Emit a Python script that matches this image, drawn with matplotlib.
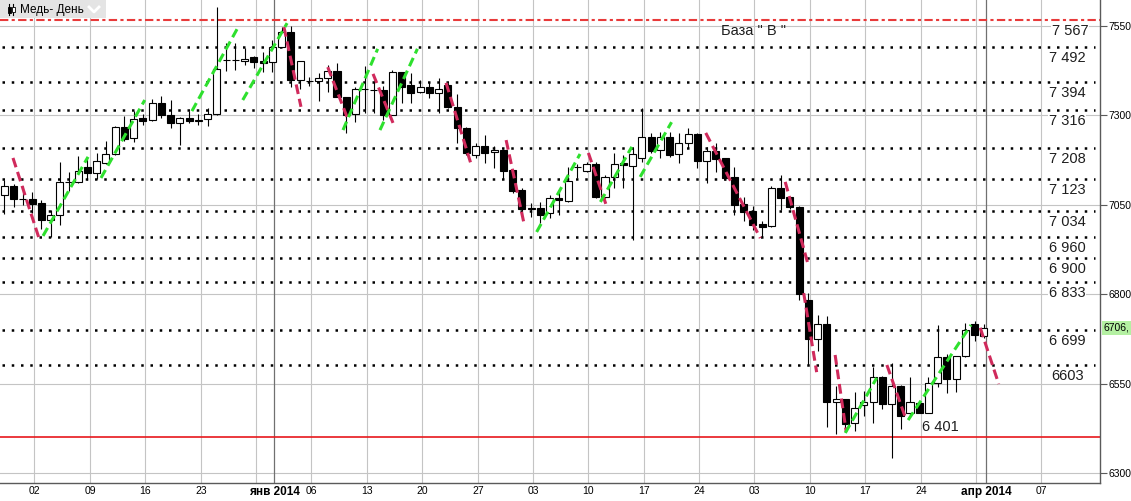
import matplotlib
matplotlib.use('Agg')
import matplotlib.pyplot as plt
from matplotlib.patches import Rectangle
from matplotlib.lines import Line2D
from matplotlib.transforms import IdentityTransform

plt.rcParams['font.family'] = ['Liberation Sans', 'DejaVu Sans']

# ---------------- data ----------------
opens = [7077, 7103, 7067, 7066, 7055, 7008, 7022, 7114, 7115, 7156,
         7139, 7167, 7192, 7268, 7237, 7293, 7286, 7336, 7301, 7279,
         7293, 7285, 7290, 7304, 7455, 7455, 7452, 7463, 7452, 7449,
         7491, 7533, 7398, 7396, 7396, 7405, 7424, 7351, 7304, 7374,
         7371, 7371, 7301, 7421, 7385, 7365, 7379, 7363, 7385, 7323,
         7265, 7189, 7214, 7198, 7203, 7147, 7091, 7040, 7041, 7027,
         7069, 7061, 7157, 7145, 7164, 7072, 7128, 7167, 7158, 7181,
         7240, 7203, 7240, 7192, 7223, 7248, 7172, 7200, 7181, 7128,
         7052, 7033, 6996, 6991, 7097, 7072, 7044, 6784, 6675, 6717,
         6499, 6507, 6440, 6489, 6499, 6568, 6493, 6543, 6468, 6496,
         6468, 6552, 6624, 6564, 6627, 6717, 6683]
highs = [7119, 7108, 7103, 7086, 7063, 7036, 7170, 7142, 7187, 7184,
         7195, 7228, 7270, 7298, 7312, 7304, 7346, 7354, 7343, 7295,
         7312, 7304, 7321, 7603, 7502, 7502, 7488, 7466, 7477, 7511,
         7547, 7549, 7452, 7407, 7419, 7441, 7447, 7351, 7379, 7438,
         7399, 7382, 7427, 7421, 7419, 7399, 7393, 7405, 7391, 7360,
         7268, 7223, 7245, 7214, 7206, 7147, 7097, 7055, 7058, 7077,
         7086, 7156, 7164, 7170, 7170, 7133, 7195, 7189, 7209, 7321,
         7251, 7254, 7254, 7251, 7265, 7251, 7212, 7223, 7181, 7156,
         7072, 7047, 7005, 7103, 7132, 7072, 7047, 6803, 6742, 6739,
         6543, 6507, 6527, 6529, 6596, 6571, 6608, 6546, 6568, 6496,
         6568, 6714, 6633, 6627, 6719, 6724, 6717]
lows = [7023, 7044, 7049, 7027, 6982, 6960, 6994, 7089, 7111, 7119,
        7122, 7164, 7189, 7228, 7226, 7273, 7284, 7293, 7265, 7217,
        7280, 7273, 7270, 7301, 7424, 7427, 7441, 7433, 7421, 7421,
        7491, 7379, 7374, 7382, 7340, 7365, 7351, 7251, 7281, 7307,
        7307, 7287, 7301, 7335, 7335, 7363, 7349, 7307, 7321, 7223,
        7189, 7181, 7167, 7153, 7122, 7083, 7021, 7016, 6999, 7013,
        7021, 7058, 7125, 7142, 7069, 7069, 7097, 7097, 6952, 7170,
        7195, 7181, 7184, 7167, 7209, 7153, 7111, 7142, 7119, 7021,
        7005, 6980, 6960, 6988, 7035, 7038, 6784, 6602, 6641, 6429,
        6409, 6415, 6417, 6459, 6440, 6479, 6342, 6423, 6462, 6468,
        6468, 6540, 6524, 6527, 6624, 6669, 6678]
closes = [7103, 7066, 7065, 7052, 7008, 7022, 7114, 7113, 7145, 7139,
          7172, 7192, 7268, 7234, 7290, 7284, 7335, 7300, 7279, 7293,
          7284, 7288, 7304, 7430, 7454, 7455, 7458, 7448, 7446, 7491,
          7533, 7399, 7452, 7396, 7405, 7424, 7351, 7301, 7374, 7373,
          7370, 7301, 7421, 7379, 7363, 7379, 7363, 7374, 7323, 7265,
          7195, 7214, 7195, 7203, 7144, 7089, 7038, 7039, 7021, 7069,
          7063, 7117, 7157, 7164, 7072, 7128, 7164, 7161, 7192, 7240,
          7200, 7240, 7189, 7223, 7248, 7172, 7200, 7179, 7126, 7049,
          7030, 6994, 6988, 7098, 7070, 7044, 6801, 6675, 6717, 6499,
          6506, 6438, 6482, 6499, 6568, 6492, 6543, 6458, 6499, 6468,
          6552, 6624, 6564, 6627, 6701, 6685, 6706]

# horizontal levels and their labels
levels = [7492, 7394, 7316, 7208, 7123, 7034, 6960, 6900, 6833, 6699, 6603]
level_labels = ['7 492', '7 394', '7 316', '7 208', '7 123', '7 034',
                '6 960', '6 900', '6 833', '6 699', '6603']
base_level = 7567
base_label = '7 567'
base_text = 'База " В "'
support_level = 6401
support_label = '6 401'

# down-trend (red) and up-trend (green) segments: bar index / price
red_x0 = [0.94, 30.26, 35.0, 39.9, 47.8, 54.3, 63.2, 75.9, 84.5, 86.5, 89.9, 95.5, 105.6]
red_p0 = [7181, 7547, 7435, 7416, 7391, 7231, 7195, 7251, 7114, 6803, 6630, 6602, 6706]
red_x1 = [3.75, 32.1, 37.08, 42.06, 50.5, 56.2, 65.2, 81.8, 86.9, 87.9, 91.1, 97.6, 107.6]
red_p1 = [6957, 7324, 7296, 7279, 7164, 7002, 7044, 6957, 6890, 6582, 6415, 6448, 6549]
green_x0 = [4.19, 10.46, 20.3, 25.8, 36.65, 40.65, 57.6, 64.5, 68.8, 91.0, 97.8]
green_p0 = [6963, 7125, 7312, 7343, 7259, 7259, 6974, 7058, 7128, 6412, 6448]
green_x1 = [9.06, 15.2, 25.2, 30.6, 40.4, 44.7, 62.3, 67.9, 72.2, 94.4, 104.6]
green_p1 = [7184, 7343, 7542, 7558, 7486, 7486, 7192, 7212, 7281, 6566, 6714]

# axis ticks
week_pos = [3.21, 9.27, 15.22, 21.28, 27.23, 33.18, 39.24, 45.20, 51.26, 57.21,
            63.16, 69.22, 75.17, 81.12, 87.18, 93.13, 99.19, 105.14, 112.17]
week_labels = ['02', '09', '16', '23', '', '06', '13', '20', '27', '03',
               '10', '17', '24', '03', '10', '17', '24', '', '07']
month_pos = [29.18, 106.22]
month_labels = ['янв 2014', 'апр 2014']
price_ticks = [6300, 6550, 6800, 7050, 7300, 7550]

# ---------------- figure ----------------
W, H = 1131, 501
fig = plt.figure(figsize=(W / 100, H / 100), dpi=100)
fig.patch.set_facecolor('white')
ax = fig.add_axes([0, 18 / H, 1100 / W, 483 / H])
ax.set_facecolor('white')
ax.set_xlim(-0.465, 118.56)
ax.set_ylim(6272.0, 7622.7)

# grid
for p in price_ticks:
    ax.axhline(p, color='#c4c4c4', lw=0.8, zorder=0)
for x in week_pos:
    ax.axvline(x, color='#c4c4c4', lw=0.8, zorder=0)
for x in month_pos:
    ax.axvline(x, color='#707070', lw=0.9, zorder=0.5)

# levels
xend = 118.0
for lvl in levels:
    ax.plot([-0.2, xend], [lvl, lvl], color='black', lw=1.8,
            dashes=(1, 2.7), dash_capstyle='butt', zorder=1)
ax.axhline(base_level, color='#e83a3a', lw=1.5, dashes=(4, 1.6, 1.5, 1.6), zorder=1)
ax.axhline(support_level, color='#e8181c', lw=1.2, zorder=1)

# candles
bw = 0.76
for i in range(len(opens)):
    o, h, l, c = opens[i], highs[i], lows[i], closes[i]
    ax.plot([i, i], [l, h], color='black', lw=0.8, zorder=3, solid_capstyle='butt')
    bottom = min(o, c)
    height = abs(c - o)
    fc = 'white' if c >= o else 'black'
    ax.add_patch(Rectangle((i - bw / 2, bottom), bw, height, facecolor=fc,
                           edgecolor='black', lw=0.8, zorder=4))

# trend segments
for x0, p0, x1, p1 in zip(red_x0, red_p0, red_x1, red_p1):
    ax.plot([x0, x1], [p0, p1], color='#d02a5c', lw=2.2, dashes=(3.2, 1.6),
            dash_capstyle='butt', zorder=5)
for x0, p0, x1, p1 in zip(green_x0, green_p0, green_x1, green_p1):
    ax.plot([x0, x1], [p0, p1], color='#2ee02e', lw=2.2, dashes=(3.0, 1.6),
            dash_capstyle='butt', zorder=5)

# level labels
lab_x = 115.0
lab_kw = dict(textcoords='offset pixels', ha='center', va='center', fontsize=10.5,
              color='#1e1e1e', zorder=6,
              bbox=dict(boxstyle='square,pad=0.05', fc='white', ec='none'))
for lvl, lab in zip(levels, level_labels):
    ax.annotate(lab, xy=(lab_x, lvl), xytext=(0, -11), **lab_kw)
ax.annotate(base_label, xy=(lab_x + 0.3, base_level), xytext=(0, -11), **lab_kw)
ax.annotate(base_text, xy=(81.1, base_level), xytext=(0, -11), textcoords='offset pixels',
            ha='center', va='center', fontsize=10.5, color='#1e1e1e', zorder=6)
ax.annotate(support_label, xy=(101.3, support_level), xytext=(0, 10), textcoords='offset pixels',
            ha='center', va='center', fontsize=10.5, color='#1e1e1e', zorder=6)

# axes styling
for s in ['top', 'left']:
    ax.spines[s].set_visible(False)
for s in ['right', 'bottom']:
    ax.spines[s].set_color('#5a5a5a')
    ax.spines[s].set_linewidth(1.0)
ax.yaxis.tick_right()
ax.set_yticks(price_ticks)
ax.set_yticklabels([str(p) for p in price_ticks])
ax.tick_params(axis='y', direction='out', length=5, width=0.8, color='#5a5a5a',
               labelsize=7.5, pad=1, labelcolor='black')
all_pos = week_pos + month_pos
all_labels = week_labels + month_labels
ax.set_xticks(all_pos)
ax.set_xticklabels(all_labels)
ax.tick_params(axis='x', length=0, labelsize=7.5, pad=2, labelcolor='black')
for t in ax.get_xticklabels():
    if t.get_text() in month_labels:
        t.set_fontweight('bold')
        t.set_fontsize(8.5)

# last-price marker
ax.annotate(f'{closes[-1]},', xy=(1.0, closes[-1]),
            xycoords=('axes fraction', 'data'), xytext=(4, 0), textcoords='offset pixels',
            ha='left', va='center', fontsize=7.5, color='black', annotation_clip=False,
            bbox=dict(boxstyle='square,pad=0.2', fc='#b4f0a2', ec='none'), zorder=7)

# title box (top-left)
idt = IdentityTransform()
fig.add_artist(Rectangle((0, H - 18), 106, 18, transform=idt, facecolor='#e4e4e4',
                         edgecolor='none', zorder=10))
fig.text(20, H - 10, 'Медь- День', transform=idt, fontsize=8.5, va='center', ha='left',
         color='black', zorder=11)
# small candle icon
fig.add_artist(Line2D([9, 9], [H - 15, H - 4], transform=idt, color='black', lw=0.8, zorder=11))
fig.add_artist(Line2D([13, 13], [H - 15, H - 4], transform=idt, color='black', lw=0.8, zorder=11))
fig.add_artist(Rectangle((7.5, H - 13), 3, 6, transform=idt, facecolor='black',
                         edgecolor='black', lw=0.6, zorder=12))
fig.add_artist(Rectangle((11.5, H - 12), 3, 5, transform=idt, facecolor='white',
                         edgecolor='black', lw=0.6, zorder=12))
# dropdown chevron
fig.add_artist(Line2D([89, 94, 99], [H - 7, H - 12, H - 7], transform=idt, color='white',
                      lw=2, zorder=11))

fig.savefig('out.png', dpi=100)
